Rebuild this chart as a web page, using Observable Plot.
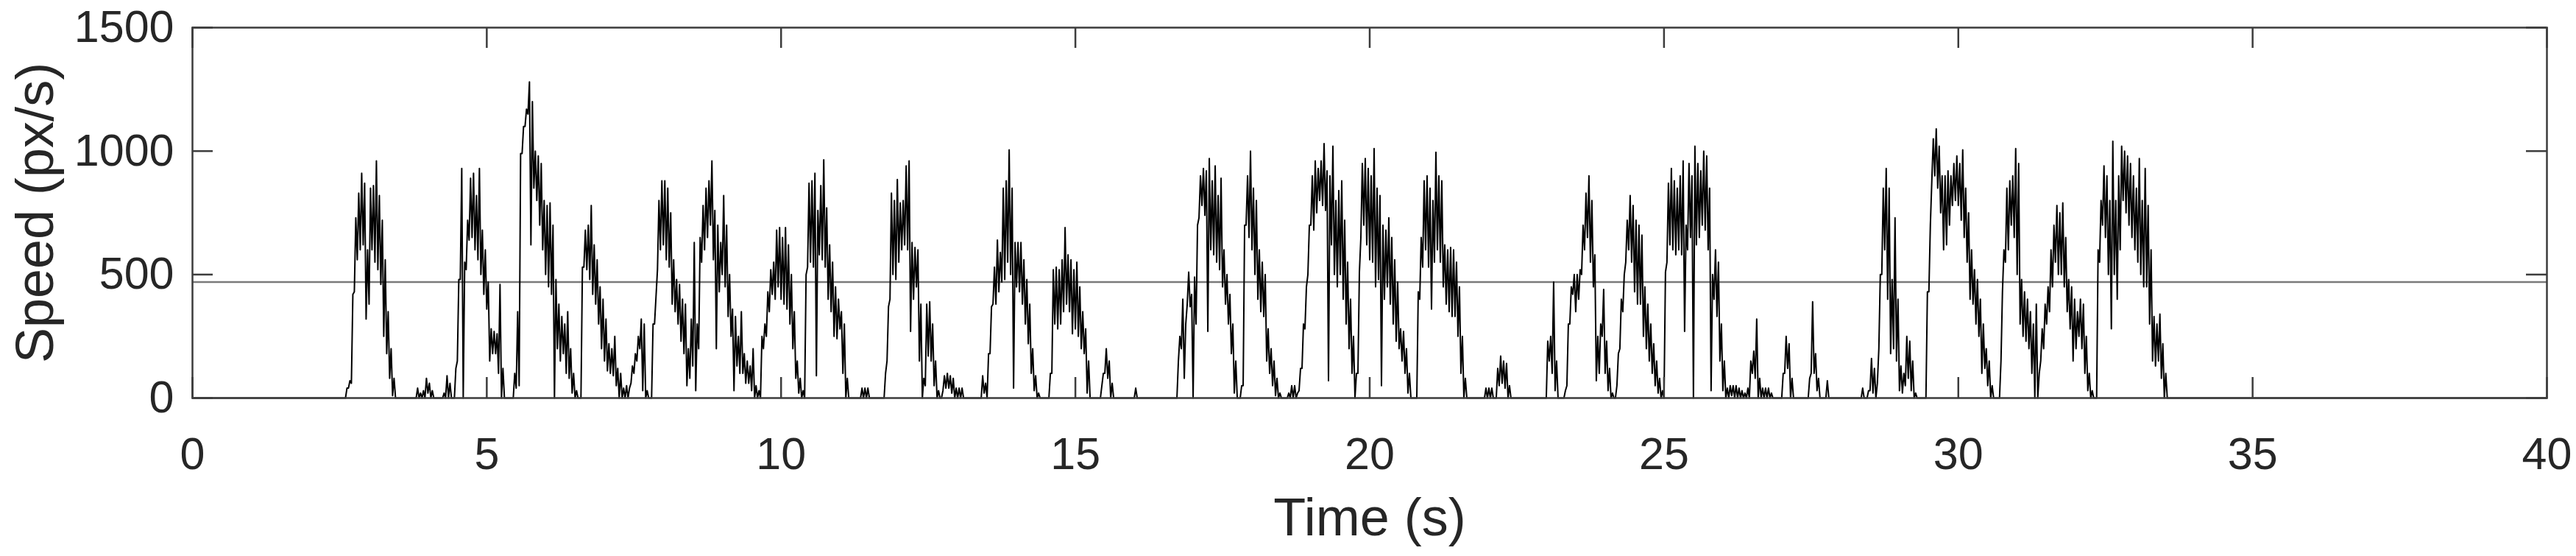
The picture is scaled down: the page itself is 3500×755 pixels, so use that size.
<!DOCTYPE html>
<html><head><meta charset="utf-8">
<script src="https://cdn.jsdelivr.net/npm/d3@7"></script>
<script src="https://cdn.jsdelivr.net/npm/@observablehq/plot@0.6"></script>
<style>body{margin:0;background:#fff}</style>
</head><body><div id="chart"></div>
<script>
// Axis ticks and labels
const xTicks = [0, 5, 10, 15, 20, 25, 30, 35, 40];
const yTicks = [0, 500, 1000, 1500];
const xLabel = "Time (s)";
const yLabel = "Speed (px/s)";
const threshold = 470;
const sampleStart = 2.5;
const sampleStep = 0.05;
const seg1 = [[0,0],[0,0],[0,40],[40,70],[60,420],[430,730],[560,830],[600,910],[620,870],[320,600],
[380,850],[600,860],[550,960],[520,820],[460,720],[250,560],[180,350],[80,200],[10,80],[0,0],
[0,0],[0,0],[0,0],[0,0],[0,0],[0,0],[0,40],[0,20],[0,30],[0,80],
[20,60],[0,30],[0,0],[0,0],[0,0],[0,20],[0,90],[0,60],[0,0],[0,120],
[150,480],[480,930],[0,550],[520,720],[640,890],[650,910],[600,820],[560,930],[500,680],[420,600],
[360,470],[150,280],[180,270],[180,260],[100,460],[0,120],[0,0],[0,0],[0,0],[0,100],
[40,350],[50,990],[990,1100],[1100,1170],[1150,1280],[620,1200],[850,1000],[800,980],[700,950],[600,800],
[500,780],[450,790],[420,700],[0,480],[200,380],[150,330],[180,300],[100,350],[80,200],[20,100],
[0,30],[0,0],[0,530],[530,680],[520,700],[480,780],[420,620],[380,560],[300,450],[200,400],
[150,320],[110,220],[100,200],[90,250],[50,120],[0,100],[0,40],[0,50],[0,40],[60,130],
[100,180],[150,250],[200,320],[30,300],[0,30]];
const seg2 = [[0,0],[0,300],[300,410],[520,800],[600,880],[620,880],[560,850],[530,750],[380,560],[350,480],
[300,460],[230,400],[180,380],[50,200],[80,320],[130,630],[30,300],[200,650],[550,780],[600,850],
[650,880],[700,960],[560,760],[200,700],[430,630],[500,820],[450,700],[330,500],[250,360],[30,330],
[130,250],[100,350],[100,180],[60,150],[60,130],[30,200],[0,50],[0,30],[0,250],[200,300],
[250,430],[350,520],[420,550],[400,680],[450,690],[400,650],[380,690],[360,620],[300,500],[200,350],
[80,150],[20,80],[0,30],[0,500],[530,870],[550,880],[530,910],[90,760],[580,860],[560,965],
[530,770],[400,620],[350,550],[250,450],[240,400],[280,350],[100,300],[0,80],[0,0],[0,0],
[0,0],[0,0],[0,40],[0,40],[0,40],[0,0],[0,0],[0,0],[0,0],[0,0],
[0,100],[150,370],[400,830],[500,800],[480,885],[550,790],[600,800],[620,940],[600,960],[270,630],
[400,610],[450,600],[150,380],[0,80],[50,380],[170,390],[150,300],[50,150],[0,30],[0,0],
[30,90],[40,100],[40,90],[20,80]];
const seg3 = [[0,40],[0,40],[0,40],[0,0],[0,0],[0,0],[0,0],[0,0],[0,0],[0,90],
[20,60],[0,180],[180,370],[380,530],[380,640],[430,590],[470,850],[480,880],[550,1005],[500,850],
[40,630],[450,630],[430,630],[380,560],[300,480],[220,380],[100,200],[30,90],[0,20],[0,0],
[0,0],[0,0],[0,100],[100,520],[300,530],[280,520],[300,560],[350,690],[380,580],[350,560],
[260,520],[280,550],[250,450],[200,350],[180,280],[20,150],[0,0],[0,0],[0,0],[0,0],
[50,100],[100,200],[80,150],[0,60],[0,0],[0,0],[0,0],[0,0],[0,0],[0,0],
[0,0],[0,40],[0,0],[0,0],[0,0],[0,0],[0,0],[0,0],[0,0],[0,0],
[0,0],[0,0],[0,0],[0,0],[0,0],[0,0],[150,250],[200,400],[80,300],[380,510],
[370,420],[0,490],[300,700],[730,900],[780,930],[740,920],[270,970],[600,880],[580,940],[550,820],
[520,890],[450,600],[380,500],[300,420],[180,300],[20,150],[0,0],[0,50],[50,700],[700,900],
[650,1000],[600,850],[500,800],[400,600],[350,550],[330,500]];
const seg4 = [[150,280],[100,200],[50,150],[10,80],[0,20],[0,0],[0,0],[0,20],[0,50],[0,50],
[0,20],[30,120],[120,300],[280,450],[500,700],[700,900],[680,960],[750,930],[800,960],[780,1030],
[760,920],[70,900],[620,1020],[500,800],[450,840],[500,880],[400,720],[300,550],[200,400],[100,250],
[0,100],[100,510],[650,950],[700,970],[620,930],[560,900],[550,1010],[450,850],[480,820],[50,700],
[400,680],[450,730],[380,650],[300,560],[230,470],[200,280],[150,270],[100,200],[20,100],[0,0],
[0,0],[0,430],[400,650],[530,880],[600,900],[530,850],[360,800],[550,995],[600,900],[550,880],
[450,620],[380,600],[350,610],[330,600],[330,550],[250,450],[100,250],[0,80],[0,0],[0,0],
[0,0],[0,0],[0,0],[0,0],[0,40],[0,40],[0,40],[0,0],[0,120],[50,170],
[60,150],[40,140],[0,50],[0,0],[0,0],[0,0],[0,0],[0,0],[0,0],[0,0],
[0,0],[0,0],[0,0],[0,0],[0,0],[0,230],[150,250],[100,470],[30,150],[0,0],
[0,0],[0,30],[50,300],[300,450],[420,500]];
const seg5 = [[350,500],[400,520],[500,700],[600,830],[650,900],[550,800],[450,580],[70,250],[100,300],[250,440],
[100,230],[30,120],[0,20],[0,0],[50,180],[200,400],[350,500],[550,720],[600,820],[550,780],
[430,720],[380,700],[380,660],[250,450],[200,380],[150,300],[100,220],[50,150],[20,80],[0,30],
[0,510],[550,870],[620,930],[600,880],[580,850],[600,900],[580,960],[270,700],[600,950],[650,900],
[0,1020],[620,950],[650,920],[700,1000],[680,980],[600,850],[30,500],[400,600],[330,550],[150,300],
[30,150],[0,40],[0,50],[10,50],[0,50],[0,40],[0,30],[0,20],[0,40],[0,150],
[100,190],[80,320],[0,80],[0,40],[0,40],[0,40],[0,20],[0,0],[0,0],[0,0],
[0,100],[100,250],[120,220],[0,80],[0,0],[0,0],[0,0],[0,0],[0,0],[0,80],
[100,390],[100,180],[30,80],[0,0],[0,0],[0,70],[0,0],[0,0],[0,0],[0,0],
[0,0],[0,0],[0,0],[0,0],[0,0],[0,0],[0,0],[0,40],[0,0],[0,30],
[30,160],[20,120],[0,60],[200,500],[500,850]];
const seg6 = [[600,930],[400,850],[180,480],[200,730],[150,400],[30,130],[20,100],[50,250],[80,230],[30,150],
[0,20],[0,0],[0,0],[0,0],[0,430],[430,700],[880,1050],[900,1090],[850,1020],[750,900],
[600,900],[620,920],[700,900],[780,950],[800,980],[780,950],[720,1005],[650,850],[550,750],[400,600],
[380,520],[300,480],[250,400],[100,300],[120,200],[50,150],[0,50],[0,0],[0,0],[0,150],
[430,600],[550,850],[600,880],[700,900],[650,1010],[500,950],[300,480],[250,430],[230,400],[200,350],
[100,300],[0,380],[0,100],[150,280],[200,380],[300,450],[350,600],[450,700],[550,780],[500,750],
[500,790],[450,650],[350,480],[280,450],[150,400],[200,350],[250,400],[200,380],[100,250],[30,100],
[0,30],[0,0],[0,600],[550,800],[700,940],[650,900],[500,800],[280,1040],[500,800],[400,900],
[600,1020],[800,1000],[750,980],[700,950],[650,900],[600,850],[550,970],[500,800],[450,930],[450,780],
[300,600],[150,330],[130,300],[150,340],[80,220],[0,100],[0,0]];

const samples = [seg1, seg2, seg3, seg4, seg5, seg6].flat();
const trace = [{t: 0, v: 0}];
samples.forEach(([lo, hi], k) => {
  const t = sampleStart + k * sampleStep;
  trace.push({t, v: lo}, {t: t + sampleStep / 2, v: hi});
});
trace.push({t: sampleStart + samples.length * sampleStep, v: 0}, {t: 40, v: 0});

const axisColor = "#3c3c3c";
const tickLen = 28;
const fmt = d => `${d}`;

const chart = Plot.plot({
  width: 3500,
  height: 755,
  marginLeft: 261,
  marginRight: 40,
  marginTop: 37,
  marginBottom: 215,
  x: {domain: [0, 40]},
  y: {domain: [0, 1500]},
  style: {fontFamily: "'Liberation Sans', Arial, Helvetica, sans-serif", color: "#262626", background: "#fff"},
  marks: [
    Plot.ruleY([threshold], {stroke: "#7a7a7a", strokeWidth: 2.5}),
    Plot.line(trace, {x: "t", y: "v", stroke: "#000", strokeWidth: 2}),
    Plot.frame({stroke: axisColor, strokeWidth: 2.5}),
    Plot.ruleX(xTicks, {x: d => d, y1: () => 0, y2: () => 0, insetTop: -tickLen, stroke: axisColor, strokeWidth: 2.5}),
    Plot.ruleX(xTicks, {x: d => d, y1: () => 1500, y2: () => 1500, insetBottom: -tickLen, stroke: axisColor, strokeWidth: 2.5}),
    Plot.ruleY(yTicks, {y: d => d, x1: () => 0, x2: () => 0, insetRight: -tickLen, stroke: axisColor, strokeWidth: 2.5}),
    Plot.ruleY(yTicks, {y: d => d, x1: () => 40, x2: () => 40, insetLeft: -tickLen, stroke: axisColor, strokeWidth: 2.5}),
    Plot.axisX({ticks: xTicks, tickFormat: fmt, tickSize: 0, tickPadding: 53, fontSize: 61, label: null}),
    Plot.axisY({ticks: yTicks, tickFormat: fmt, tickSize: 0, tickPadding: 25, fontSize: 61, label: null}),
    Plot.text([xLabel], {text: d => d, frameAnchor: "bottom", textAnchor: "middle", lineAnchor: "bottom", dy: 186, fontSize: 72, fill: "#262626"}),
    Plot.text([yLabel], {text: d => d, frameAnchor: "left", textAnchor: "middle", lineAnchor: "middle", rotate: -90, dx: -213, fontSize: 72, fill: "#262626"})
  ]
});
document.getElementById("chart").appendChild(chart);
</script>
</body></html>
